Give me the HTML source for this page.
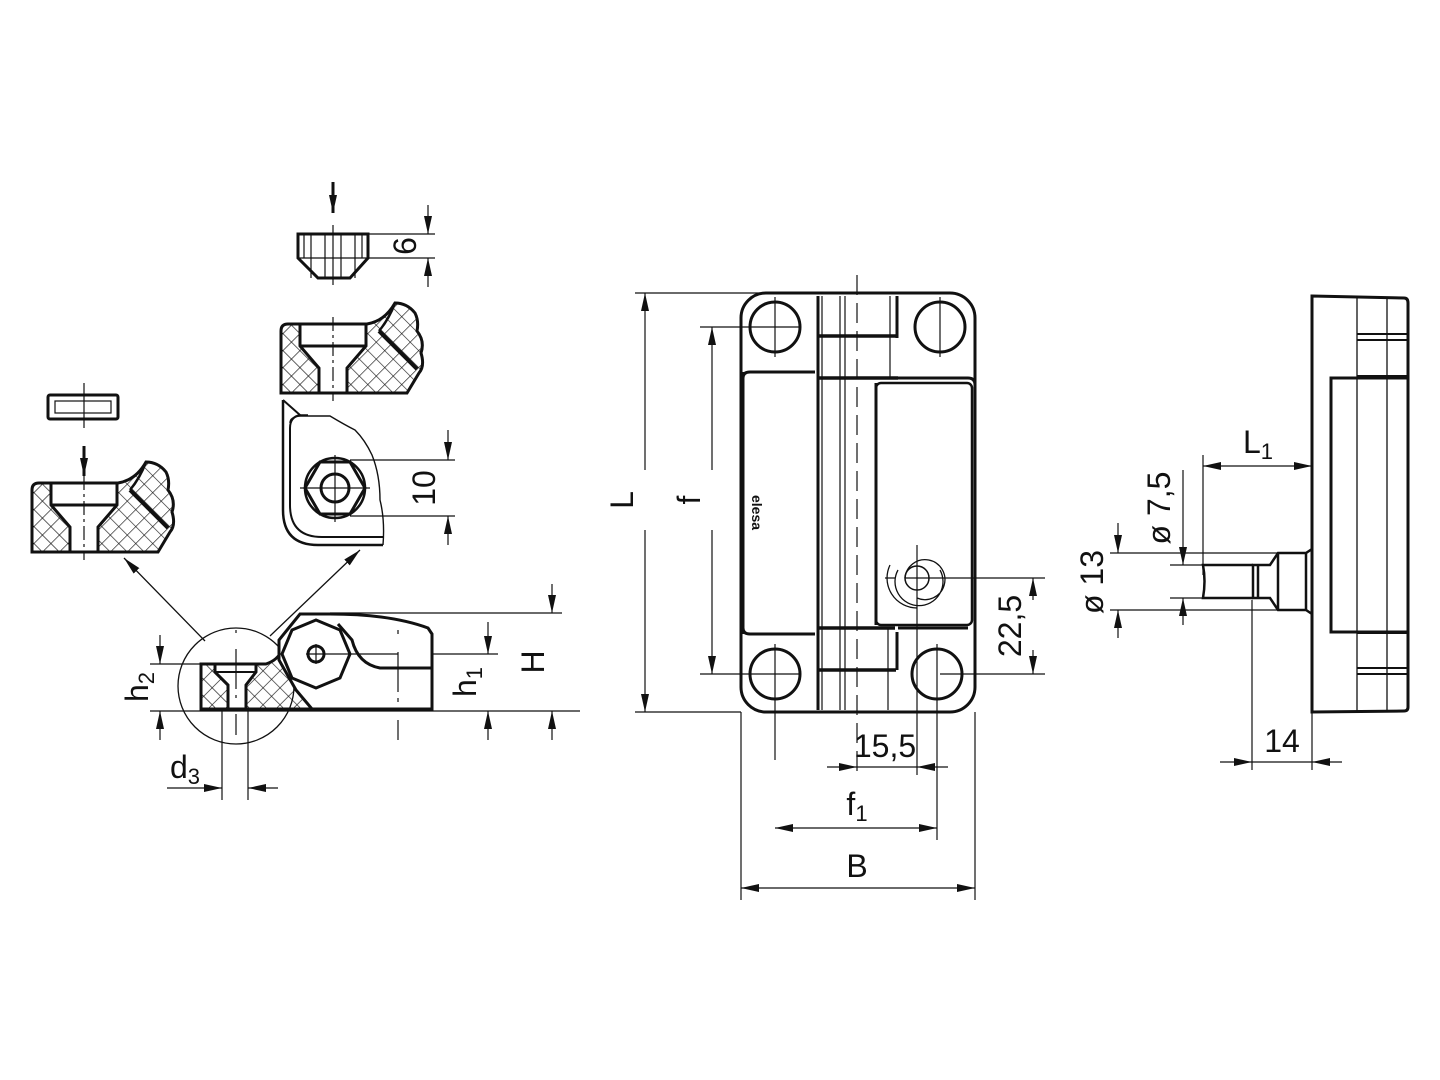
<!DOCTYPE html>
<html><head><meta charset="utf-8"><style>
html,body{margin:0;padding:0;background:#fff;}
svg{display:block;}
text{font-family:"Liberation Sans",sans-serif;fill:#111;}
</style></head><body>
<svg width="1440" height="1080" viewBox="0 0 1440 1080" xmlns="http://www.w3.org/2000/svg">
<defs>
<pattern id="hx" width="12" height="12" patternUnits="userSpaceOnUse" patternTransform="rotate(45)">
<path d="M0 0H12M0 0V12" stroke="#111" stroke-width="1.3" fill="none"/>
</pattern>
<marker id="a" viewBox="0 0 10 6" refX="10" refY="3" markerWidth="10" markerHeight="6" markerUnits="userSpaceOnUse" orient="auto-start-reverse"><path d="M0 0L10 3L0 6z" fill="#111"/></marker>
<marker id="A" viewBox="0 0 18 8" refX="18" refY="4" markerWidth="18" markerHeight="8" markerUnits="userSpaceOnUse" orient="auto-start-reverse"><path d="M0 0L18 4L0 8z" fill="#111"/></marker>
<g id="blk">
<path d="M32 490 Q32 483 39 483 L118 483 Q136 480 146 462 Q158 462 166 472 Q170 480 168 490 Q176 500 172 512 Q176 525 170 532 L158 552 L32 552 Z" fill="url(#hx)" stroke="#111" stroke-width="3"/>
<path d="M51 483 H117 V505 L98 527 V552 H70 V527 L51 505 Z" fill="#fff" stroke="#111" stroke-width="3"/>
<path d="M51 505 H117" stroke="#111" stroke-width="3"/>
<path d="M130 490 L168 528" stroke="#111" stroke-width="4"/>
<path d="M146 462 Q140 478 130 490" stroke="#111" stroke-width="2.5" fill="none"/>
<path d="M84 476 V560" stroke="#111" stroke-width="1.2" stroke-dasharray="14 4 3 4"/>
</g>
</defs>
<g fill="none" stroke="#111">
<!-- left small rect -->
<rect x="48" y="395" width="70" height="24" rx="2" stroke-width="3"/>
<rect x="55" y="401" width="56" height="12" stroke-width="1.2"/>
<path d="M84 383 V428" stroke-width="1.2"/>
<path d="M84 446 V476" stroke-width="3" marker-end="url(#A)"/>
<use href="#blk"/>
<use href="#blk" transform="translate(249,-159)"/>
<!-- top nut -->
<path d="M298 234 H368 V258 L350 278 H318 L298 258 Z" stroke-width="3"/>
<path d="M298 258 H368 M311 234 V278 M325 234 V278 M341 234 V278 M355 234 V278 M304 234 V258 M362 234 V258" stroke-width="1.2"/>
<path d="M333 225 V285" stroke-width="1.2"/>
<path d="M333 182 V213" stroke-width="3" marker-end="url(#A)"/>
<path d="M368 234 H435 M368 258 H435" stroke-width="1.2"/>
<path d="M428 205 V234" stroke-width="1.2" marker-end="url(#A)"/>
<path d="M428 287 V258" stroke-width="1.2" marker-end="url(#A)"/>
<!-- bracket -->
<path d="M283 400 V510 Q283 545 318 545 H383" stroke-width="2.5"/>
<path d="M283 400 L300 415 Q290 417 290 428 V505 Q290 537 322 537 H383" stroke-width="2"/>
<path d="M300 415 H308 M290 423 Q290 417 300 416 H330 Q345 425 355 430 Q365 440 372 455 Q380 475 380 500 Q385 520 383 545" stroke-width="1.4"/>
<polygon points="365,488 350,514 320,514 305,488 320,462 350,462" stroke-width="3"/>
<circle cx="335" cy="488" r="30" stroke-width="2.5"/>
<circle cx="335" cy="488" r="14" stroke-width="3"/>
<path d="M335 455 V522 M300 488 H370" stroke-width="1.2"/>
<path d="M350 460 H455 M350 516 H455" stroke-width="1.2"/>
<path d="M448 430 V460" stroke-width="1.2" marker-end="url(#A)"/>
<path d="M448 545 V516" stroke-width="1.2" marker-end="url(#A)"/>
<!-- arrows from circle -->
<path d="M205 641 L124 558" stroke-width="1.3" marker-end="url(#A)"/>
<path d="M270 636 L360 550" stroke-width="1.3" marker-end="url(#A)"/>
<!-- side view bottom -->
<circle cx="236" cy="686" r="58" stroke-width="1.3"/>
<path d="M201 664 H266 Q278 660 282 650 L306 700 L312 709 H201 Z" fill="url(#hx)" stroke-width="3"/>
<path d="M215 664 H256 V672 L246 685 V709 H228 V685 L215 672 Z" fill="#fff" stroke-width="3"/>
<path d="M215 672 H256" stroke-width="2"/>
<path d="M300 614 H330 Q390 614 428 628 L432 634 V709 H312 L296 690 L279 660 V640 Z" fill="#fff" stroke-width="3"/>
<polygon points="350,654 340,678 316,688 292,678 282,654 292,630 316,620 340,630" stroke-width="3"/>
<path d="M338 624 L352 640 Q358 664 380 668 H432" stroke-width="3"/>
<circle cx="316" cy="654" r="8" stroke-width="3"/>
<path d="M316 644 V664 M306 654 H398" stroke-width="1.2"/>
<path d="M236 630 V735" stroke-width="1.2" stroke-dasharray="3 16 40 6"/>
<path d="M398 630 V740" stroke-width="1.2" stroke-dasharray="4 18 40 6"/>
<path d="M150 664 H201 M150 711 H580 M330 613 H562 M432 654 H498" stroke-width="1.2"/>
<path d="M160 635 V664" stroke-width="1.2" marker-end="url(#A)"/>
<path d="M160 740 V711" stroke-width="1.2" marker-end="url(#A)"/>
<path d="M488 622 V654" stroke-width="1.2" marker-end="url(#A)"/>
<path d="M488 740 V711" stroke-width="1.2" marker-end="url(#A)"/>
<path d="M552 584 V613" stroke-width="1.2" marker-end="url(#A)"/>
<path d="M552 740 V711" stroke-width="1.2" marker-end="url(#A)"/>
<path d="M222 711 V800 M248 711 V800" stroke-width="1.2"/>
<path d="M167 788 H222" stroke-width="1.2" marker-end="url(#A)"/>
<path d="M278 788 H248" stroke-width="1.2" marker-end="url(#A)"/>

<!-- middle view -->
<rect x="741" y="293" width="234" height="419" rx="25" stroke-width="3"/>
<path d="M743 378 Q743 372 750 372 H815 M898 378 H968 Q975 378 975 385" stroke-width="3"/>
<path d="M743 628 Q743 634 750 634 H815 M898 628 H968" stroke-width="3"/>
<path d="M743 372 V634" stroke-width="3"/>
<path d="M818 296 V710 M897 296 V338 M897 632 V670" stroke-width="3"/>
<path d="M818 336 H896 M818 378 H898 M818 628 H895 M818 670 H896" stroke-width="3.5"/>
<path d="M822 296 V710 M840 296 V710 M845 296 V710 M890 296 V378 M888 628 V710" stroke-width="1.2"/>
<path d="M876 383 V625" stroke-width="3"/>
<rect x="876" y="383" width="96" height="242" rx="5" stroke-width="2.5"/>
<path d="M857 275 V775" stroke-width="1.2" stroke-dasharray="20 8"/>
<circle cx="775" cy="327" r="25" stroke-width="3"/>
<circle cx="940" cy="327" r="25" stroke-width="3"/>
<circle cx="775" cy="674" r="25" stroke-width="3"/>
<circle cx="937" cy="674" r="25" stroke-width="3"/>
<path d="M775 297 V357 M940 297 V357 M775 644 V760 M937 644 V840 M917 545 V775" stroke-width="1.2"/>
<circle cx="917" cy="578" r="12" stroke-width="1.5"/>
<path d="M905 578 A20 20 0 1 1 917 598 M898 570 A24 24 0 1 0 940 570 M890 565 A30 30 0 0 0 917 608 M885 578 H895 M905 578 H1045" stroke-width="1.3"/>
<!-- L, f dims -->
<path d="M635 293 H860 M700 327 H800 M700 674 H800 M635 712 H741 M940 674 H1045" stroke-width="1.2"/>
<path d="M645 470 V293" stroke-width="1.2" marker-end="url(#A)"/>
<path d="M645 530 V712" stroke-width="1.2" marker-end="url(#A)"/>
<path d="M712 470 V327" stroke-width="1.2" marker-end="url(#A)"/>
<path d="M712 530 V674" stroke-width="1.2" marker-end="url(#A)"/>
<path d="M1033 600 V578" stroke-width="1.2" marker-end="url(#A)"/>
<path d="M1033 650 V674" stroke-width="1.2" marker-end="url(#A)"/>
<path d="M741 712 V900 M975 712 V900" stroke-width="1.2"/>
<path d="M827 767 H857" stroke-width="1.2" marker-end="url(#A)"/>
<path d="M948 767 H917" stroke-width="1.2" marker-end="url(#A)"/>
<path d="M857 767 H917" stroke-width="1.2"/>
<path d="M775 828 H937" stroke-width="1.2" marker-start="url(#A)" marker-end="url(#A)"/>
<path d="M741 888 H975" stroke-width="1.2" marker-start="url(#A)" marker-end="url(#A)"/>

<!-- right view -->
<path d="M1312 296 L1404 298 Q1408 298 1408 303 V707 Q1408 711 1404 711 L1312 712 Z" stroke-width="3"/>
<path d="M1357 298 V711 M1387 298 V711" stroke-width="1.3"/>
<path d="M1357 334 H1408 M1357 340 H1408 M1357 376 H1408 M1357 633 H1408 M1357 668 H1408 M1357 674 H1408" stroke-width="2"/>
<rect x="1331" y="378" width="77" height="254" stroke-width="3"/>
<path d="M1312 549 L1306 553 H1278 L1270 565 H1253 V598 H1270 L1278 610 H1306 L1312 614" stroke-width="2.5"/>
<path d="M1253 565 H1203 Q1206 581 1203 598 H1253 M1258 565 V598 M1278 553 V610 M1306 553 V610" stroke-width="2.5"/>
<path d="M1110 553 H1306 M1110 610 H1306 M1170 565 H1203 M1170 598 H1203" stroke-width="1.2"/>
<path d="M1203 455 V575 M1252 600 V770 M1312 712 V770" stroke-width="1.2"/>
<path d="M1203 466 H1312" stroke-width="1.2" marker-start="url(#A)" marker-end="url(#A)"/>
<path d="M1118 523 V553" stroke-width="1.2" marker-end="url(#A)"/>
<path d="M1118 638 V610" stroke-width="1.2" marker-end="url(#A)"/>
<path d="M1183 470 V565" stroke-width="1.2" marker-end="url(#A)"/>
<path d="M1183 625 V598" stroke-width="1.2" marker-end="url(#A)"/>
<path d="M1220 762 H1252" stroke-width="1.2" marker-end="url(#A)"/>
<path d="M1342 762 H1312" stroke-width="1.2" marker-end="url(#A)"/>
<path d="M1252 762 H1312" stroke-width="1.2"/>
</g>
<g font-size="32">
<text transform="translate(416,246) rotate(-90)" text-anchor="middle">6</text>
<text transform="translate(435,488) rotate(-90)" text-anchor="middle">10</text>
<text transform="translate(148,687) rotate(-90)" text-anchor="middle">h<tspan font-size="22" dy="6">2</tspan></text>
<text transform="translate(476,682) rotate(-90)" text-anchor="middle">h<tspan font-size="22" dy="6">1</tspan></text>
<text transform="translate(544,662) rotate(-90)" text-anchor="middle">H</text>
<text x="170" y="778">d<tspan font-size="22" dy="6">3</tspan></text>
<text transform="translate(633,500) rotate(-90)" text-anchor="middle">L</text>
<text transform="translate(700,500) rotate(-90)" text-anchor="middle">f</text>
<text transform="translate(1021,626) rotate(-90)" text-anchor="middle">22,5</text>
<text x="885" y="757" text-anchor="middle">15,5</text>
<text x="857" y="815" text-anchor="middle">f<tspan font-size="22" dy="6">1</tspan></text>
<text x="857" y="877" text-anchor="middle">B</text>
<text x="1258" y="453" text-anchor="middle">L<tspan font-size="22" dy="6">1</tspan></text>
<text x="1282" y="752" text-anchor="middle">14</text>
<text transform="translate(1103,582) rotate(-90)" text-anchor="middle">ø 13</text>
<text transform="translate(1170,508) rotate(-90)" text-anchor="middle">ø 7,5</text>
</g>
<text transform="translate(752,495) rotate(90)" font-size="14" font-weight="bold">elesa</text>
</svg>
</body></html>
